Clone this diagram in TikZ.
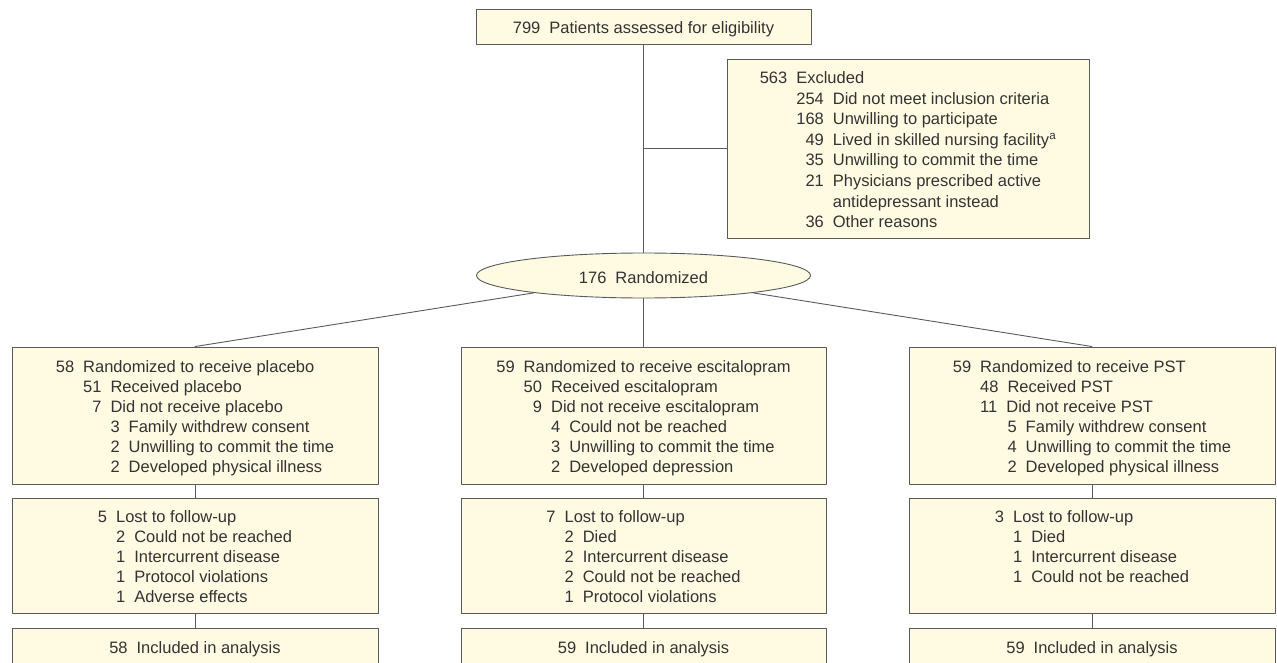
\documentclass[tikz,border=0pt]{standalone}
\usepackage{fontspec}
\setmainfont{Liberation Sans}
\usetikzlibrary{shapes.geometric}
\definecolor{boxfill}{HTML}{FFFBE3}
\definecolor{linegray}{HTML}{5A5A5A}
\definecolor{txtgray}{HTML}{333333}
\newcommand{\gp}{\hspace*{9pt}}
\newcommand{\lv}[1]{\hphantom{#1}\gp}
\newcommand{\stack}[1]{\begin{tabular}{@{}l@{}}\rule{0pt}{20.4pt}#1\end{tabular}}
\begin{document}
\begin{tikzpicture}[x=1pt,y=-1pt, line join=round, line cap=round,
    font=\fontsize{16.5}{20}\selectfont, text=txtgray,
    box/.style={draw=linegray, fill=boxfill, inner sep=0pt, line width=0.9pt},
    one/.style={box, execute at begin node=\rule{0pt}{17pt}},
    link/.style={draw=linegray, line width=0.9pt}]
    \def\xl{195} \def\xm{643.5} \def\xr{1092}
    \def\ya{415.5} \def\yb{555.5} \def\yc{647}
    \def\wb{366} \def\ha{137} \def\hb{115} \def\hc{38}
    \useasboundingbox (0,0) rectangle (1277,663);
    \node[one, minimum width=335, minimum height=35] (elig) at (\xm,26.5)
        {799\gp Patients assessed for eligibility};
    \node[box, minimum width=362, minimum height=179,
        font=\fontsize{16.5}{20.6}\selectfont] (excl) at (908,148.5)
        {\stack{563\gp Excluded\\
         \lv{000}254\gp Did not meet inclusion criteria\\
         \lv{000}168\gp Unwilling to participate\\
         \lv{000}\hphantom{0}49\gp Lived in skilled nursing facility\textsuperscript{a}\\
         \lv{000}\hphantom{0}35\gp Unwilling to commit the time\\
         \lv{000}\hphantom{0}21\gp Physicians prescribed active\\
         \lv{000}\lv{000}antidepressant instead\\
         \lv{000}\hphantom{0}36\gp Other reasons}};
    \node[one, ellipse, minimum width=334, minimum height=45] (rand) at (\xm,275.5)
        {176\gp Randomized};
    % arms
    \node[box, minimum width=\wb, minimum height=\ha] (plac) at (\xl,\ya)
        {\stack{58\gp Randomized to receive placebo\\
         \lv{00}51\gp Received placebo\\
         \lv{00}\hphantom{0}7\gp Did not receive placebo\\
         \lv{00}\lv{00}3\gp Family withdrew consent\\
         \lv{00}\lv{00}2\gp Unwilling to commit the time\\
         \lv{00}\lv{00}2\gp Developed physical illness}};
    \node[box, minimum width=365, minimum height=\ha] (escit) at (\xm,\ya)
        {\stack{59\gp Randomized to receive escitalopram\\
         \lv{00}50\gp Received escitalopram\\
         \lv{00}\hphantom{0}9\gp Did not receive escitalopram\\
         \lv{00}\lv{00}4\gp Could not be reached\\
         \lv{00}\lv{00}3\gp Unwilling to commit the time\\
         \lv{00}\lv{00}2\gp Developed depression}};
    \node[box, minimum width=\wb, minimum height=\ha] (pst) at (\xr,\ya)
        {\stack{59\gp Randomized to receive PST\\
         \lv{00}48\gp Received PST\\
         \lv{00}11\gp Did not receive PST\\
         \lv{00}\lv{00}5\gp Family withdrew consent\\
         \lv{00}\lv{00}4\gp Unwilling to commit the time\\
         \lv{00}\lv{00}2\gp Developed physical illness}};
    % follow-up
    \node[box, minimum width=\wb, minimum height=\hb] (lostl) at (\xl,\yb)
        {\stack{5\gp Lost to follow-up\\
         \lv{0}2\gp Could not be reached\\
         \lv{0}1\gp Intercurrent disease\\
         \lv{0}1\gp Protocol violations\\
         \lv{0}1\gp Adverse effects}};
    \node[box, minimum width=365, minimum height=\hb] (lostm) at (\xm,\yb)
        {\stack{7\gp Lost to follow-up\\
         \lv{0}2\gp Died\\
         \lv{0}2\gp Intercurrent disease\\
         \lv{0}2\gp Could not be reached\\
         \lv{0}1\gp Protocol violations}};
    \node[box, minimum width=\wb, minimum height=\hb] (lostr) at (\xr,\yb)
        {\stack{3\gp Lost to follow-up\\
         \lv{0}1\gp Died\\
         \lv{0}1\gp Intercurrent disease\\
         \lv{0}1\gp Could not be reached\\
         \mbox{}}};
    % analysis
    \node[one, minimum width=\wb, minimum height=\hc] (anal) at (\xl,\yc) {58\gp Included in analysis};
    \node[one, minimum width=365, minimum height=\hc] (anam) at (\xm,\yc) {59\gp Included in analysis};
    \node[one, minimum width=\wb, minimum height=\hc] (anar) at (\xr,\yc) {59\gp Included in analysis};
    % connectors
    \draw[link] (elig) -- (rand);
    \draw[link] (elig.south |- excl.west) -- (excl.west);
    \draw[link] (rand) -- (plac.north);
    \draw[link] (rand) -- (escit.north);
    \draw[link] (rand) -- (pst.north);
    \draw[link] (plac) -- (lostl);
    \draw[link] (escit) -- (lostm);
    \draw[link] (pst) -- (lostr);
    \draw[link] (lostl) -- (anal);
    \draw[link] (lostm) -- (anam);
    \draw[link] (lostr) -- (anar);
\end{tikzpicture}
\end{document}
